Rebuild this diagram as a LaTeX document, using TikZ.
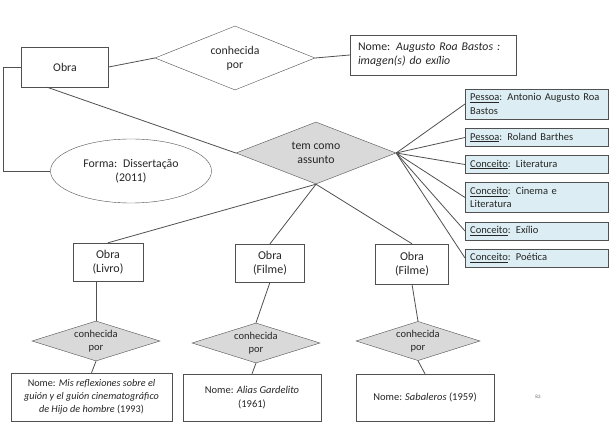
\documentclass[tikz,border=0pt]{standalone}
\usepackage{fontspec}
\setmainfont{Carlito}
\usetikzlibrary{shapes.geometric}
\definecolor{subjblue}{RGB}{220,238,243}
\definecolor{relgray}{RGB}{217,217,217}
\definecolor{edgegray}{RGB}{80,80,80}
\newcommand{\bigtxt}{\fontsize{11.8}{14}\selectfont}
\newcommand{\smalltxt}{\fontsize{10.5}{13.5}\selectfont}

\begin{document}
\begin{tikzpicture}[x=1pt,y=-1pt,
  every node/.style={text=black!85},
  ent/.style={draw=edgegray,fill=white,align=center,inner sep=0pt},
  rel/.style={draw=edgegray,diamond,shape aspect=2.6,inner sep=0pt,align=center},
  subj/.style={draw=edgegray,fill=subjblue,anchor=west,align=left,
    text width=133pt,inner xsep=5pt,inner ysep=4.4pt,font=\smalltxt},
  link/.style={draw=edgegray,line width=0.8pt}]
\useasboundingbox (0,0) rectangle (614,430);

% main work and its attributes
\node[ent,font=\bigtxt,minimum width=87pt,minimum height=40pt] (obra) at (65,67) {Obra};
\node[rel,fill=white,font=\bigtxt,minimum width=160pt,minimum height=64pt] (known) at (235,58) {conhecida\\por};
\node[ent,font=\bigtxt,align=left,text width=150pt,minimum width=166pt,minimum height=40pt] (nome) at (433,55)
  {Nome: \textit{Augusto Roa Bastos :}\\\textit{imagen(s) do exílio}};
\node[ent,ellipse,font=\bigtxt,minimum width=161pt,minimum height=64pt] (forma) at (131,171)
  {Forma:\enspace Dissertação\\(2011)};
\node[rel,fill=relgray,font=\bigtxt,minimum width=160pt,minimum height=62pt] (subject) at (316,153) {tem como\\assunto};

\draw[link] (obra.east) -- (known.west);
\draw[link] (known.east) -- (nome.west);
\draw[link] (obra.west) -- ++(-18,0) |- (forma.west);
\draw[link] ([xshift=-18pt]obra.south) -- (subject.west);

% subjects on the right
\foreach \n/\yy/\txt in {
  1/104/{\underline{Pessoa}:\enspace Antonio Augusto Roa\\Bastos},
  2/137.5/{\underline{Pessoa}:\enspace Roland Barthes},
  3/164.5/{\underline{Conceito}:\enspace Literatura},
  4/197.5/{\underline{Conceito}:\enspace Cinema e\\Literatura},
  5/231/{\underline{Conceito}:\enspace Exílio},
  6/258/{\underline{Conceito}:\enspace Poética}}
  {\node[subj] (s\n) at (465,\yy) {\txt};
   \draw[link] (subject.east) -- (s\n.west);}

% related works
\node[ent,font=\fontsize{12}{14.5}\selectfont,minimum width=70pt,minimum height=38pt] (livro) at (108,262) {Obra\\(Livro)};
\node[ent,font=\fontsize{12}{14.5}\selectfont,minimum width=69pt,minimum height=38pt] (filme1) at (270,263) {Obra\\(Filme)};
\node[ent,font=\fontsize{12}{14.5}\selectfont,minimum width=73pt,minimum height=40pt] (filme2) at (412,264) {Obra\\(Filme)};

\node[rel,fill=relgray,font=\smalltxt,minimum width=128pt,minimum height=40pt] (dl) at (96,341) {conhecida\\por};
\node[rel,fill=relgray,font=\smalltxt,minimum width=128pt,minimum height=40pt] (dm) at (256,343) {conhecida\\por};
\node[rel,fill=relgray,font=\smalltxt,minimum width=124pt,minimum height=37pt] (dr) at (418,341) {conhecida\\por};

\node[ent,font=\fontsize{10.2}{13}\selectfont,minimum width=161pt,minimum height=48pt] (bl) at (91.5,397)
  {Nome: \textit{Mis reflexiones sobre el}\\\textit{guión y el guión cinematográfico}\\\textit{de Hijo de hombre} (1993)};
\node[ent,font=\smalltxt,minimum width=138pt,minimum height=47pt] (bm) at (252,397.5)
  {Nome: \textit{Alias Gardelito}\\(1961)};
\node[ent,font=\smalltxt,minimum width=138pt,minimum height=47pt] (br) at (425,397.5)
  {Nome: \textit{Sabaleros} (1959)};

\draw[link] (subject.south) -- (livro.north);
\draw[link] (subject.south) -- (filme1.north);
\draw[link] (subject.south) -- (filme2.north);
\draw[link] (dl.north) -- (dl.north |- livro.south);
\draw[link] (filme1.south) -- (dm.north);
\draw[link] (filme2.south) -- (dr.north);
\draw[link] (dl.south) -- (bl.north);
\draw[link] (dm.south) -- (bm.north);
\draw[link] (dr.south) -- (br.north);

\node[font=\fontsize{5}{6}\selectfont,text=black!60] (pg) at (538,397) {82};
\end{tikzpicture}
\end{document}
